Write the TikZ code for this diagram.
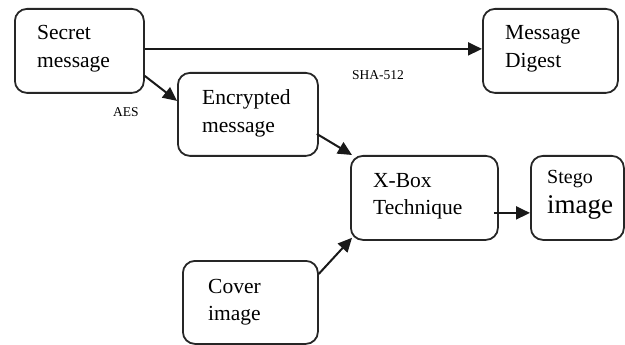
\documentclass[tikz,border=0pt]{standalone}
\usepackage{fontspec}
\setmainfont{Liberation Serif}
\usetikzlibrary{arrows.meta}
\begin{document}
\begin{tikzpicture}[x=1pt,y=-1pt,
 box/.style={draw=black!85, line width=1.8pt, rounded corners=12pt, anchor=north west, inner sep=0pt},
 txt/.style={anchor=base west, inner sep=0pt, font=\fontsize{21.5}{28}\selectfont},
 lbl/.style={inner sep=0pt, font=\fontsize{13.5}{15}\selectfont},
 arr/.style={line width=2pt, draw=black!90, -{Triangle[length=14pt,width=13pt]}}]
\useasboundingbox (0,0) rectangle (625,345);
% boxes
\node[box, minimum width=129pt, minimum height=84pt] (sec) at (14,8) {};
\node[box, minimum width=140pt, minimum height=83pt] (enc) at (177,72) {};
\node[box, minimum width=135pt, minimum height=84pt] (dig) at (482,8) {};
\node[box, minimum width=147pt, minimum height=84pt] (xbox) at (350,155) {};
\node[box, minimum width=93pt, minimum height=84pt] (stego) at (530,155) {};
\node[box, minimum width=135pt, minimum height=83pt] (cover) at (182,260) {};
% texts
\node[txt] (sect) at (37,40) {\begin{tabular}[t]{@{}l@{}}Secret\\message\end{tabular}};
\node[txt] (enct) at (202,105) {\begin{tabular}[t]{@{}l@{}}Encrypted\\message\end{tabular}};
\node[txt] (digt) at (505,40) {\begin{tabular}[t]{@{}l@{}}Message\\Digest\end{tabular}};
\node[txt] (xboxt) at (373,187) {\begin{tabular}[t]{@{}l@{}}X-Box\\Technique\end{tabular}};
\node[txt] (stegot) at (547,183) {\begin{tabular}[t]{@{}l@{}}{\fontsize{20}{28}\selectfont Stego}\\[2pt]{\fontsize{27}{28}\selectfont image}\end{tabular}};
\node[txt] (covert) at (208,293) {\begin{tabular}[t]{@{}l@{}}Cover\\image\end{tabular}};
% labels
\node[lbl] (sha) at (378,75) {SHA-512};
\node[lbl] (aes) at (126,112) {AES};
% arrows
\draw[arr] ([yshift=2pt]sec.east) -- ([yshift=2pt]dig.west);
\draw[arr] ([yshift=-25pt]sec.east) -- ([yshift=13.5pt]enc.west);
\draw[arr] ([yshift=-19.5pt,xshift=-2pt]enc.east) -- ([xshift=2pt]xbox.north west);
\draw[arr] ([yshift=28.5pt]cover.east) -- ([xshift=2pt,yshift=3pt]xbox.south west);
\draw[arr] ([yshift=-15pt,xshift=-5pt]xbox.east) -- ([yshift=-15pt]stego.west);
\end{tikzpicture}
\end{document}
